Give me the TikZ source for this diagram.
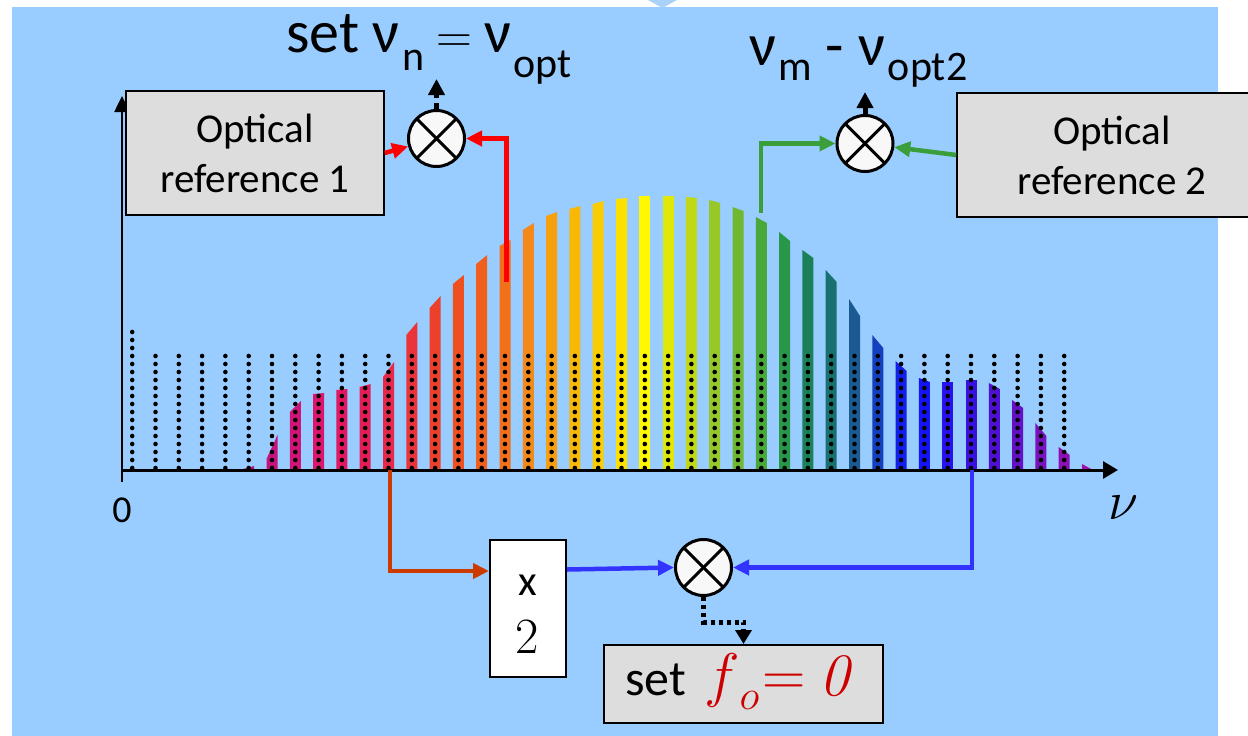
\documentclass[tikz,border=0pt]{standalone}
\usepackage[no-math]{fontspec}
\setmainfont{Carlito}
\usetikzlibrary{arrows.meta}
\definecolor{bgblue}{HTML}{99CCFF}
\definecolor{triblue}{HTML}{A8D2FA}
\definecolor{boxgrey}{HTML}{DDDDDD}
\definecolor{mixfill}{HTML}{F8F8F8}
\definecolor{gcol}{HTML}{3A9F3A}
\definecolor{ocol}{HTML}{CC3A00}
\definecolor{bcol}{HTML}{3333FF}
\definecolor{rcol}{HTML}{FF0000}
\definecolor{fored}{HTML}{CC0000}
\newcommand\sbs[2]{\raisebox{-#1pt}{\fontsize{42}{42}\selectfont #2}}
\newcommand\bigeq{\scalebox{2.4}{\fontsize{20.74}{20.74}\selectfont$=$}}
\tikzset{
  refbox/.style={draw=black, line width=1.5pt, fill=boxgrey, minimum height=124pt, align=center, font=\fontsize{41}{50}\selectfont, inner sep=0pt},
  mixer/.style={circle, draw=black, line width=3pt, fill=mixfill, minimum size=56pt, inner sep=0pt,
    path picture={\draw[line width=3pt] (path picture bounding box.north east) -- (path picture bounding box.south west);
                  \draw[line width=3pt] (path picture bounding box.north west) -- (path picture bounding box.south east);}},
  flow/.style={line width=4.5pt, -{Triangle[length=16pt,width=15pt]}},
  outarrow/.style={black, line width=5pt, dash pattern=on 6pt off 5pt, -{Triangle[length=16pt,width=16pt]}},
  dotarrow/.style={black, line width=5pt, dash pattern=on 4pt off 4pt, -{Triangle[length=14pt,width=16pt]}},
  dotline/.style={black, line width=4.6pt, line cap=round, dash pattern=on 0pt off 8pt},
  axisline/.style={black, line width=3pt},
  plainbox/.style={draw=black, line width=2pt, inner sep=0pt},
  title/.style={anchor=base west, inner sep=0pt, font=\fontsize{60}{60}\selectfont}
}
\begin{document}
\begin{tikzpicture}[x=1pt,y=-1pt]
\useasboundingbox (0,0) rectangle (1248,736);
\fill[bgblue] (12,7) rectangle (1218,736);
\fill[triblue] (648,0) -- (677,0) -- (662.5,8) -- cycle;

% spectrum bars
\foreach \k/\yl/\yr/\c in {4/469/466/B4108C,5/459/435/C4127E,6/412/401/D01478,7/394/393/DC166C,
  8/390/389/E01862,9/387/384/E41C58,10/377/362/E8284A,11/335/322/EA343A,12/308/296/EC402A,
  13/284/275/EE5020,14/264/255/F0601C,15/246/240/F27018,16/230/223/F48818,17/216/212/F6A010,
  18/209/206/F8B808,19/204/201/FACC04,20/199/198/FDE000,21/196/196/FFF800,22/196/196/E0E808,
  23/197/198/C0D818,24/200/203/98C828,25/207/211/70B830,26/217/223/48A838,27/232/241/289848,
  28/250/258/1C8058,29/270/282/187070,30/299/316/1A5A90,31/335/348/1440C0,32/361/371/1020E8,
  33/378/382/1414F4,34/382/382/2812EC,35/380/380/3A10E0,36/383/389/5010D0,37/400/408/6410C4,
  38/423/436/7810BC,39/447/455/8C10B4,40/464/470/A010B0}{
  \pgfmathsetmacro\xc{155.5+23.3*\k}
  \definecolor{barc}{HTML}{\c}
  \fill[barc] (\xc-5.5,470) -- (\xc-5.5,\yl) -- (\xc+5.5,\yr) -- (\xc+5.5,470) -- cycle;
}
% comb lines (dotted)
\draw[dotline] (132.2,468) -- (132.2,330);
\foreach \k in {0,...,39}{
  \pgfmathsetmacro\xc{155.5+23.3*\k}
  \draw[dotline] (\xc,468) -- (\xc,355);
}

% axes
\coordinate (ybot) at (122,482);
\coordinate (ytop) at (122,96);
\coordinate (xl) at (121,470);
\coordinate (xr) at (1118,470);
\draw[axisline, line width=2.5pt, -{Triangle[length=16pt,width=15pt]}] (ybot) -- (ytop);
\draw[axisline, -{Triangle[length=15pt,width=17pt]}] (xl) -- (xr);
\node[font=\fontsize{38}{38}\selectfont] (zero) at (122,510) {0};
\node (nulab) at (1123,508) {\scalebox{2.2}{\fontsize{24}{24}\selectfont$\nu$}};

% reference boxes
\node[refbox, minimum width=258pt] (ref1) at (255,153) {Optical\\reference 1};
\node[refbox, minimum width=310pt] (ref2) at (1112,155) {Optical\\reference 2};

% mixers
\node[mixer] (m1) at (436.5,138.5) {};
\node[mixer] (m2) at (865,143.5) {};
\node[mixer] (m3) at (703.5,567.5) {};

% titles
\node[title] (t1) at (286,52)
  {set ν\hspace{3pt}\sbs{18}{n}\hspace{12pt}\bigeq\hspace{12pt}ν\hspace{2pt}\sbs{25}{opt}};
\node[title] (t2) at (749,65)
  {ν\hspace{2pt}\sbs{15}{m}\hspace{14pt}-\hspace{14pt}ν\hspace{3pt}\sbs{15}{opt2}};
\coordinate (o1) at (436.5,79);
\coordinate (o2) at (865,92);
\draw[outarrow] (m1) -- (o1);
\draw[outarrow] (m2) -- (o2);

% upper connectors
\coordinate (rbot) at (506,282);
\coordinate (gbot) at (761,213);
\draw[flow, rcol] (ref1.east) -- (m1);
\draw[flow, rcol, line width=5pt] (rbot) |- (m1.east);
\draw[flow, gcol] (gbot) |- (m2.west);
\draw[flow, gcol] (ref2.west) -- (m2);

% lower part
\node[plainbox, fill=white, minimum width=76pt, minimum height=137pt] (x2) at (528,608.5) {};
\node[anchor=base, inner sep=0pt, font=\fontsize{43}{43}\selectfont] (x2a) at (528,595) {x};
\node[anchor=base, inner sep=0pt] (x2b) at (527,653) {\scalebox{2.45}{\fontsize{20.74}{20.74}\selectfont$2$}};
\node[plainbox, fill=boxgrey, minimum width=279pt, minimum height=78pt] (fo) at (743.5,684) {};
\node[anchor=base west, inner sep=0pt, font=\fontsize{50}{50}\selectfont] (fotxt) at (625,695) {set};
\node[anchor=base west, inner sep=0pt, text=fored] (fomath) at (704,695)
  {\scalebox{2.9}{\fontsize{20.74}{20.74}\selectfont$f$\raisebox{-5pt}{\fontsize{15}{15}\selectfont$o$}$\mkern1mu{=}\mkern4mu\mathit{0}$}};

\coordinate (obot) at (390,470);
\coordinate (bbot) at (972,470);
\draw[flow, ocol] (obot) |- ([yshift=37.5pt]x2.west);
\draw[flow, bcol] ([yshift=39pt]x2.east) -- (m3.west);
\draw[flow, bcol] (bbot) |- (m3.east);
\draw[dotarrow] (m3.south) -- ++(0,25) -| (fo.north);
\end{tikzpicture}
\end{document}
